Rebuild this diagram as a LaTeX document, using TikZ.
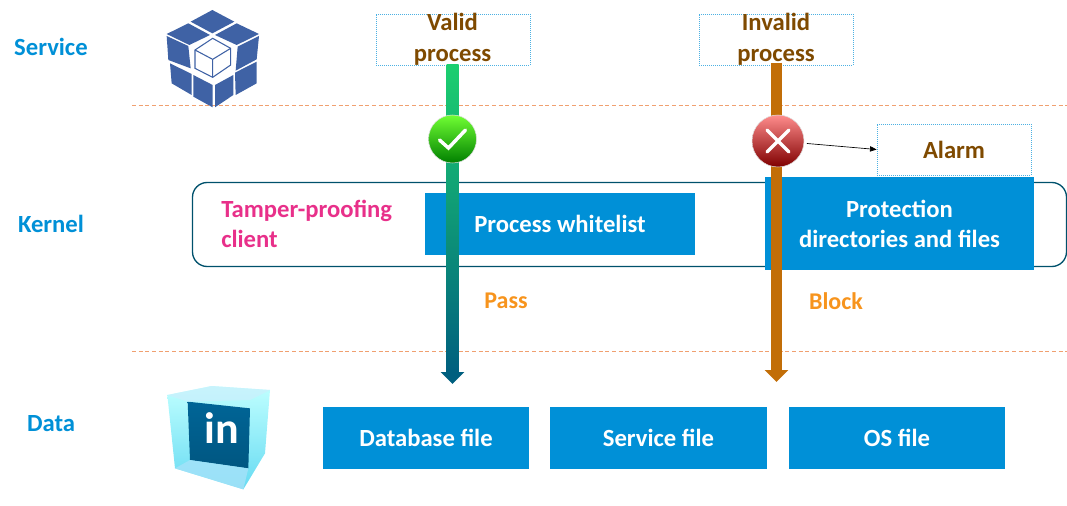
\documentclass[tikz,border=0pt]{standalone}
\usepackage{fontspec}
\setmainfont{Carlito}
\usetikzlibrary{arrows.meta,calc}
\definecolor{blueb}{HTML}{0090D7}
\definecolor{brownt}{HTML}{7F4A00}
\definecolor{pinkt}{HTML}{E8308A}
\definecolor{oranget}{HTML}{F7941D}
\definecolor{shaftg}{HTML}{1CCF6F}
\definecolor{shaftt}{HTML}{005F7F}
\definecolor{shafto}{HTML}{C26E08}
\definecolor{cubeb}{HTML}{3F62A5}
\definecolor{dashl}{HTML}{F0A070}
\tikzset{
  layer/.style={font=\bfseries\fontsize{18.5}{22}\selectfont, text=blueb},
  bluebox/.style={fill=blueb, text=white, align=center, font=\bfseries\fontsize{18.5}{22.5}\selectfont, minimum height=46.5pt, inner sep=0pt},
  dotbox/.style={draw=blueb!70, densely dotted, line width=0.5pt, fill=white, minimum width=115.5pt, minimum height=38.25pt, inner sep=0pt},
  brownlab/.style={text=brownt, align=center, font=\bfseries\fontsize{18.5}{23.25}\selectfont, inner sep=0pt},
  flowlab/.style={text=oranget, font=\bfseries\fontsize{18}{22}\selectfont, inner sep=0pt},
  sep/.style={dashl, densely dashed, line width=0.5pt},
  cubep/.style={fill=cubeb, draw=none}
}
\begin{document}
\begin{tikzpicture}[x=0.75pt,y=-0.75pt]
\useasboundingbox (0,0) rectangle (1067,506);
\draw[sep] (132,105.5) -- (1067,105.5);
\draw[sep] (132,351) -- (1067,351);
\node[layer] (service) at (51,47) {Service};
\node[layer] (kernel) at (51,224) {Kernel};
\node[layer] (data) at (51,424) {Data};
% cube icon
\begin{scope}[shift={(140,0)},x=0.25pt,y=-0.25pt]
\fill[cubep] (217,30)--(283,65)--(217,100)--(152,65)--cycle;
\fill[cubep] (145,70)--(210,105)--(148,135)--(80,102)--cycle;
\fill[cubep] (290,70)--(357,102)--(290,135)--(225,105)--cycle;
\fill[cubep] (80,108)--(145,138)--(152,205)--(85,180)--cycle;
\fill[cubep] (90,190)--(155,222)--(155,285)--(95,250)--cycle;
\fill[cubep] (160,225)--(218,255)--(218,322)--(160,290)--cycle;
\fill[cubep] (225,255)--(280,225)--(280,285)--(225,322)--cycle;
\fill[cubep] (285,218)--(350,185)--(350,250)--(287,285)--cycle;
\fill[cubep] (293,140)--(357,108)--(350,178)--(287,212)--cycle;
\draw[cubeb, fill=white, line width=0.8pt] (218,115)--(272,145)--(272,195)--(218,232)--(165,205)--(165,150)--cycle;
\draw[cubeb, line width=0.8pt] (165,150)--(218,178)--(272,145) (218,178)--(218,232);
\end{scope}
% ice icon
\begin{scope}[shift={(140,340)},x=0.25pt,y=-0.25pt]
\shade[top color=cyan!25, bottom color=cyan!45!blueb!60] (82,165)--(215,138)--(390,150)--(375,340)--(310,448)--(105,385)--cycle;
\shade[top color=blueb!70!black, bottom color=blueb!60!black] (143,185)--(330,205)--(325,385)--(150,360)--cycle;
\fill[cyan!20, opacity=0.7] (82,165)--(215,138)--(390,150)--(330,180)--(143,185)--cycle;
\fill[cyan!35, opacity=0.8] (105,385)--(150,360)--(325,385)--(310,448)--cycle;
\node[text=white, font=\bfseries\fontsize{33}{33}\selectfont, inner sep=0pt] (inlogo) at (245,265) {in};
\end{scope}
% kernel
\draw[shaftt!85!black, line width=1pt, rounded corners=11pt] (192.5,182.5) rectangle (1066.5,266.5);
\node[text=pinkt, align=left, anchor=west, inner sep=0pt, font=\bfseries\fontsize{18.5}{22.5}\selectfont] (client) at (221,224) {Tamper-proofing\\client};
\node[bluebox, minimum width=202.5pt] (whitelist) at (560,224) {Process whitelist};
\node[bluebox, minimum width=201.75pt, minimum height=69.75pt] (protect) at (899.5,223.5) {Protection\\directories and files};
% data
\node[bluebox, minimum width=154.5pt] (dbfile) at (426,438) {Database file};
\node[bluebox, minimum width=162.75pt] (svcfile) at (658.5,438) {Service file};
\node[bluebox, minimum width=162pt] (osfile) at (897,438) {OS file};
% process
\node[dotbox] (valid) at (453,39.5) {};
\node[dotbox] (invalid) at (776,39.5) {};
\node[brownlab] (validlab) at (452.5,39) {Valid\\process};
\node[brownlab] (invalidlab) at (776,39) {Invalid\\process};
\node[dotbox, text=brownt, font=\bfseries\fontsize{18.5}{22}\selectfont] (alarm) at (954,149.5) {Alarm};
\coordinate (validend) at (452.5,384);
\coordinate (invalidend) at (776.5,382);
\draw[-{Triangle[length=9pt,width=17.25pt]}, line width=9pt, shaftt] (valid.south -| validend) -- (validend);
\draw[-{Triangle[length=9pt,width=17.25pt]}, line width=8.5pt, shafto, shorten <=-2pt] (invalid.south -| invalidend) -- (invalidend);
\shade[top color=shaftg, bottom color=shaftt] (446.5,65) rectangle (458.5,373);
\node[flowlab] (pass) at (506,301) {Pass};
\node[flowlab] (block) at (836,301) {Block};
\node[circle, minimum size=36pt, inner sep=0pt, draw=gray!25, line width=0.4pt, top color=green!70!yellow!80!white, middle color=green!65!yellow!85!black, bottom color=green!50!black] (okmark) at (452.5,139) {};
\draw[white, line width=2.6pt, line cap=round] ($(okmark)+(-13,1)$) -- ($(okmark)+(-4,9)$) -- ($(okmark)+(13,-9)$);
\node[circle, minimum size=39pt, inner sep=0pt, draw=gray!25, line width=0.4pt, top color=red!45!white, middle color=red!85!black, bottom color=red!50!black] (nomark) at (778,141) {};
\draw[white, line width=2.6pt, line cap=round] ($(nomark)+(-11,-11)$) -- ($(nomark)+(11,11)$) ($(nomark)+(-11,11)$) -- ($(nomark)+(11,-11)$);
\draw[-{Triangle[length=5pt,width=4pt]}, line width=0.5pt, shorten <=2pt] (nomark) -- (alarm.west);
\end{tikzpicture}
\end{document}
